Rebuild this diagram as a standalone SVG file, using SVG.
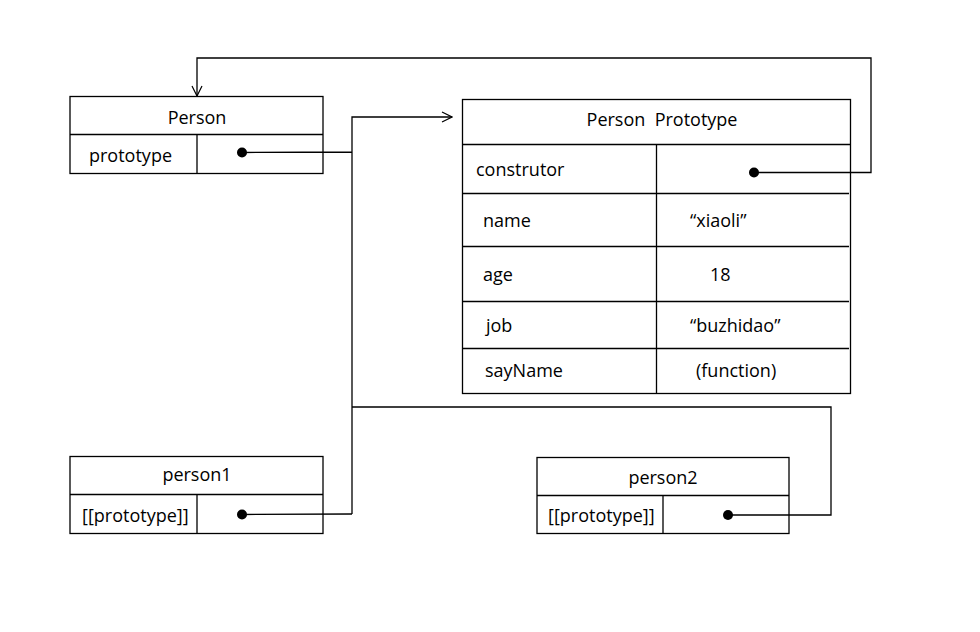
<svg xmlns="http://www.w3.org/2000/svg" width="980" height="632" viewBox="0 0 980 632">
<style>
.box{fill:#fff;stroke:#000;stroke-width:1.3}
.ln{fill:none;stroke:#000;stroke-width:1.3}
.c{fill:none;stroke:#000;stroke-width:1.3}
.dot{fill:#000}
text{font-family:"Open Sans","Noto Sans","Liberation Sans",sans-serif;font-size:18px;fill:#000}
.m{text-anchor:middle}
.pre{white-space:pre}
</style>
<defs>
<marker id="arr" viewBox="0 0 12 12" refX="11" refY="6" markerWidth="12" markerHeight="12" markerUnits="userSpaceOnUse" orient="auto">
<path d="M1,1 L11,6 L1,11" fill="none" stroke="#000" stroke-width="1.2"/>
</marker>
</defs>
<rect width="980" height="632" fill="#fff"/>
<g id="person">
<rect class="box" x="70" y="96.5" width="253" height="77"/>
<path class="ln" d="M70,134.5 H323 M197,134.5 V173.5"/>
<text class="m" x="197" y="124">Person</text>
<text x="89" y="162">prototype</text>
<circle class="dot" cx="242" cy="152.5" r="5"/>
</g>
<g id="person-prototype">
<rect class="box" x="462.5" y="99.5" width="388" height="294"/>
<path class="ln" d="M462.5,144.5 H850.5 M462.5,193.5 H849 M462.5,246.5 H849 M462.5,301.5 H849 M462.5,348.5 H849 M656.5,144.5 V393.5"/>
<text class="m pre" x="662" y="126" xml:space="preserve">Person  Prototype</text>
<text x="476" y="176">construtor</text>
<text x="483" y="227">name</text>
<text x="483" y="281">age</text>
<text x="486" y="332">job</text>
<text x="485" y="377">sayName</text>
<text x="690" y="227">“xiaoli”</text>
<text x="710" y="281">18</text>
<text x="690" y="332">“buzhidao”</text>
<text x="696" y="377">(function)</text>
<circle class="dot" cx="754" cy="172.5" r="5"/>
</g>
<g id="person1">
<rect class="box" x="70" y="456.5" width="253" height="77"/>
<path class="ln" d="M70,494.5 H323 M197,494.5 V533.5"/>
<text class="m" x="197" y="481">person1</text>
<text x="82" y="522">[[prototype]]</text>
<circle class="dot" cx="242" cy="514.5" r="5"/>
</g>
<g id="person2">
<rect class="box" x="537" y="457.5" width="252" height="76"/>
<path class="ln" d="M537,495.5 H789 M663,495.5 V533.5"/>
<text class="m" x="663" y="484">person2</text>
<text x="548" y="522">[[prototype]]</text>
<circle class="dot" cx="728" cy="515" r="5"/>
</g>
<g id="connectors">
<path class="c" d="M243,152.5 L352,152 M352,514 L352,117 L452,117" marker-end="url(#arr)"/>
<path class="c" d="M243,514.5 L352,514"/>
<path class="c" d="M352,407 L831,407 L831,515 L727,515"/>
<path class="c" d="M754,172.5 L871,172.5 L871,58 L197,58 L197,96" marker-end="url(#arr)"/>
</g>
</svg>
